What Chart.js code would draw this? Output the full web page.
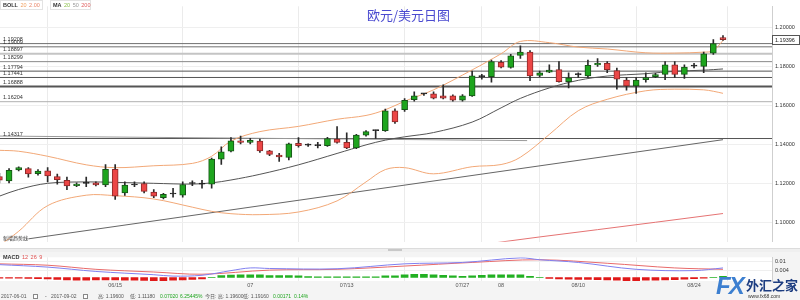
<!DOCTYPE html>
<html><head><meta charset="utf-8">
<script src="https://cdn.jsdelivr.net/npm/chart.js@4.4.1/dist/chart.umd.min.js"></script>
<style>
html,body{margin:0;padding:0;background:#fff;}
#wrap{position:relative;width:800px;height:300px;overflow:hidden;background:#f4f4f4;font-family:"Liberation Sans",Arial,sans-serif;}
canvas{position:absolute;left:0;}
#cMain{top:0;background:#fff;}
#cMacd{top:251px;}
#title{position:absolute;left:367px;top:7px;font-size:13px;line-height:16px;color:#4b4bd0;font-family:"Noto Sans CJK SC",sans-serif;white-space:nowrap;}
#strip{position:absolute;left:0;top:248px;width:800px;height:3px;background:#efefef;border-top:1px solid #dcdcdc;}
#handle{position:absolute;left:388px;top:249px;width:14px;height:2px;background:#c8c8c8;}
#wm{position:absolute;left:716px;top:274px;width:84px;height:26px;white-space:nowrap;}
</style></head>
<body>
<div id="wrap">
  <canvas id="cMain" width="800" height="248"></canvas>
  <div id="strip"></div><div id="handle"></div>
  <canvas id="cMacd" width="800" height="49"></canvas>
  <div id="title">欧元/美元日图</div>
  <div id="wm">
    <span style="font:italic bold 24px 'Liberation Sans',Arial;color:#3c7fd0;letter-spacing:-2px;position:absolute;left:0;top:-2px;">FX</span>
    <span style="font:bold 13px 'Noto Sans CJK SC';color:#1c3c80;position:absolute;left:30px;top:1px;">外汇之家</span>
    <span style="font:5px 'Liberation Sans';color:#333;position:absolute;left:32px;top:19px;">www.fx68.com</span>
  </div>
</div>
<script>
// ---------- DATA ----------
const tickIdx    = [12, 26, 36, 48, 52, 60, 72, 79];
const tickLabels = ["06/15", "07", "07/13", "07/27", "08", "08/10", "08/24", ""];
const priceTicks = [1.10, 1.12, 1.14, 1.16, 1.18, 1.20];
const macdTicks  = [0.004, 0.01];

const openP  = [1.12361,1.12132,1.12702,1.12766,1.12507,1.12653,1.12361,1.12166,1.11888,1.12010,1.12034,1.11922,1.12732,1.11512,1.11922,1.12000,1.11561,1.11278,1.11463,1.11400,1.12000,1.11971,1.11971,1.13254,1.13658,1.14195,1.14117,1.14180,1.13678,1.13463,1.13336,1.14068,1.13970,1.13951,1.13951,1.14278,1.14117,1.13824,1.14488,1.14717,1.14717,1.15741,1.15800,1.16312,1.16605,1.16605,1.16507,1.16507,1.16278,1.16507,1.17497,1.17497,1.18229,1.17970,1.18585,1.18751,1.17561,1.17727,1.17853,1.17239,1.17595,1.17531,1.18097,1.18180,1.17805,1.17317,1.17010,1.17336,1.17497,1.17610,1.18097,1.17610,1.18034,1.18019,1.18702,1.19497];
const highP  = [1.12522,1.12766,1.12863,1.12815,1.12717,1.12815,1.12488,1.12327,1.12034,1.12327,1.12083,1.12975,1.12975,1.12083,1.12083,1.12083,1.11693,1.11497,1.11756,1.12083,1.12132,1.12166,1.13302,1.13888,1.14361,1.14439,1.14327,1.14278,1.13707,1.13546,1.14083,1.14361,1.14034,1.14117,1.14376,1.14927,1.14605,1.14522,1.14717,1.14741,1.15824,1.15839,1.16370,1.16717,1.16634,1.16717,1.17073,1.16556,1.16571,1.17775,1.17610,1.18341,1.18312,1.18634,1.19073,1.18829,1.17775,1.18097,1.18263,1.17692,1.17692,1.18341,1.18424,1.18263,1.17936,1.17449,1.17449,1.17692,1.17658,1.18263,1.18263,1.18097,1.18180,1.18751,1.19400,1.19600];
const lowP   = [1.12034,1.12034,1.12644,1.12327,1.12424,1.12083,1.11971,1.11678,1.11839,1.11839,1.11873,1.11839,1.11180,1.11385,1.11839,1.11512,1.11278,1.11205,1.11302,1.11302,1.11888,1.11756,1.11756,1.12975,1.13629,1.14034,1.14034,1.13595,1.13434,1.13141,1.13219,1.13873,1.13912,1.13824,1.13912,1.14068,1.13790,1.13790,1.14439,1.14312,1.14683,1.15092,1.15700,1.16229,1.16522,1.16341,1.16341,1.16229,1.16229,1.16473,1.17365,1.17205,1.17936,1.17922,1.18424,1.17287,1.17497,1.17692,1.17205,1.16912,1.17449,1.17449,1.18019,1.17692,1.16849,1.16800,1.16634,1.17205,1.17434,1.17336,1.17449,1.17400,1.17936,1.17692,1.18634,1.19351];
const closeP = [1.12166,1.12683,1.12815,1.12488,1.12634,1.12390,1.12195,1.11873,1.11971,1.12010,1.11922,1.12732,1.11351,1.11922,1.11922,1.11595,1.11351,1.11449,1.11463,1.11951,1.12000,1.11971,1.13254,1.13629,1.14195,1.14117,1.14214,1.13678,1.13497,1.13366,1.14034,1.13951,1.13970,1.13951,1.14312,1.14117,1.13824,1.14488,1.14668,1.14717,1.15741,1.15170,1.16278,1.16507,1.16605,1.16390,1.16390,1.16278,1.16507,1.17531,1.17497,1.18263,1.17985,1.18556,1.18751,1.17531,1.17692,1.17824,1.17239,1.17434,1.17595,1.18068,1.18180,1.17853,1.17365,1.17010,1.17317,1.17449,1.17595,1.18097,1.17610,1.17985,1.18034,1.18668,1.19190,1.19396];

const bollIdx = [0,2,5,9,12,16,20,22,24,27,31,35,38,40,42,45,49,52,54,57,60,63,67,70,73,74,75];
const bollUp  = [1.13707,1.13658,1.13400,1.12961,1.12815,1.12912,1.13034,1.13400,1.14180,1.14668,1.14936,1.15302,1.15497,1.15790,1.16229,1.16814,1.17839,1.18668,1.19302,1.19239,1.19009,1.18912,1.18717,1.18702,1.18751,1.18829,1.19351];
const bollMid = [1.11351,1.11693,1.12010,1.12083,1.12059,1.12010,1.11971,1.12034,1.12180,1.12473,1.12961,1.13546,1.13985,1.14229,1.14400,1.14619,1.15156,1.15888,1.16375,1.16912,1.17302,1.17522,1.17644,1.17766,1.17824,1.17853,1.17888];
const bollLow = [1.08815,1.09546,1.10863,1.11400,1.11375,1.11205,1.10785,1.10570,1.10449,1.10400,1.10536,1.11107,1.12083,1.12717,1.12815,1.12498,1.12863,1.12975,1.13351,1.14522,1.15741,1.16327,1.16766,1.16849,1.16815,1.16741,1.16634];

const ma200Idx = [50, 56, 62, 68, 75];
const ma200Val = [1.08863, 1.09254, 1.09629, 1.10009, 1.10458];

const levelVals   = [1.19190, 1.19024, 1.18668, 1.18263, 1.17775, 1.17449, 1.16985, 1.16205, 1.14312];
const levelLabels = ["1.19208","1.19009","1.18897","1.18299","1.17794","1.17441","1.16888","1.16204","1.14317"];
const levelColor  = ["#707070","#707070","#c4c4c4","#8a8a8a","#555555","#555555","#555555","#b0b0b0","#555555"];
const levelWidth  = [1,1,2,1,1,1,2,1,1];

const trendIdx = [3, 75];
const trendVal = [1.09156, 1.14253];
const trendLabel = "新增趋势线";
const segIdx = [0, 54.7];
const segVal = [1.14439, 1.14205];

const difIdx = [0,5,10,16,18,21,24,26,28,35,42,48,54,56,60,66,72,75];
const difVal = [0.00785,0.00635,0.0037,0.0017,0.00085,0.00135,0.0042,0.00585,0.0055,0.00535,0.00835,0.0092,0.012,0.01085,0.0092,0.005,0.0042,0.00585];
const deaIdx = [0,5,10,16,21,28,35,42,49,56,63,70,75];
const deaVal = [0.00835,0.0075,0.005,0.00335,0.002,0.0045,0.005,0.007,0.0092,0.01085,0.0087,0.00585,0.005];
const histVal = [-0.00035,-0.00035,-0.00035,-0.0005,-0.00065,-0.00085,-0.00115,-0.0015,-0.00165,-0.00165,-0.0015,-0.0015,-0.0015,-0.00165,-0.00165,-0.00185,-0.002,-0.002,-0.00165,-0.0015,-0.00115,-0.00085,
 0.00015,0.00115,0.0015,0.00165,0.00165,0.00165,
 0.00115,0.00115,0.00115,0.001,0.0005,0.00035,0.00035,0.00035,0.00035,0.00035,0.00035,0.0004,
 0.001,0.001,0.00165,0.002,0.002,0.00165,0.00125,0.001,0.00065,0.001,0.00135,0.00165,0.00165,0.00165,0.00165,0.00065,
 0.00015,
 -0.0005,-0.00085,-0.001,-0.00115,-0.00115,-0.00135,-0.0015,-0.00165,-0.002,-0.002,-0.00165,-0.00165,-0.0015,-0.00135,-0.001,-0.00065,-0.00035,
 0.00015,0.00065];

// header / footer texts
const legendBoll = [["BOLL", "#333", true], ["20", "#f0a060"], ["2.00", "#e8866a"]];
const legendMA   = [["MA", "#333", true], ["20", "#8cc04a"], ["50", "#999"], ["200", "#e06060"]];
const legendMacd = [["MACD", "#333", true], ["12", "#e05050"], ["26", "#e05050"], ["9", "#e05050"]];
const infoTexts = [
  ["2017-06-01", 1, "#555"], ["-", 45, "#555"], ["2017-09-02", 51, "#555"],
  ["高: 1.19600", 98, "#555"], ["低: 1.11180", 130, "#555"],
  ["0.07020", 160, "#1fa51f"], ["6.25445%", 180, "#1fa51f"],
  ["今日: 高: 1.19600", 205, "#555"], ["低: 1.19160", 243, "#555"],
  ["0.00171", 273, "#1fa51f"], ["0.14%", 294, "#1fa51f"]
];
const infoIcons = [33, 83];

// ---------- LAYOUT CONSTANTS ----------
const X_MIN = 0.062, X_MAX = 80.08;
const Y_MAX = 1.21107, Y_MIN = 1.09010;
const M_MAX = 0.01235, M_MIN = -0.00215;
const AXIS_W = 28;

const GREEN = '#1ea51e', GREEN_B = '#175417', RED = '#ec4646', RED_B = '#8e2a2a';
const FONT = '"Liberation Sans", "Noto Sans CJK SC", Arial, sans-serif';
const CJK = '"Noto Sans CJK SC", sans-serif';

const n = closeP.length;
const idx = closeP.map((_, i) => i);
const pts = (xs, ys) => xs.map((x, k) => ({x, y: ys[k]}));

const bodyColors = idx.map(i => closeP[i] > openP[i] ? GREEN : (closeP[i] < openP[i] ? RED : '#222'));
const bodyBorders = idx.map(i => closeP[i] > openP[i] ? GREEN_B : (closeP[i] < openP[i] ? RED_B : '#222'));

const xGridCommon = {
  type: 'linear', min: X_MIN, max: X_MAX, offset: false,
  afterBuildTicks: s => { s.ticks = tickIdx.map(v => ({value: v})); },
};

function drawLegend(ctx, items, x, y, boxW) {
  ctx.save();
  ctx.fillStyle = '#fff'; ctx.strokeStyle = '#e3e3e3'; ctx.lineWidth = 1;
  ctx.fillRect(x + 0.5, y + 0.5, boxW, 9); ctx.strokeRect(x + 0.5, y + 0.5, boxW, 9);
  ctx.textBaseline = 'middle';
  let cx = x + 3;
  items.forEach(([t, c, b]) => {
    ctx.font = (b ? 'bold ' : '') + '5.5px ' + FONT;
    ctx.fillStyle = c; ctx.fillText(t, cx, y + 5.5);
    cx += ctx.measureText(t).width + 2.5;
  });
  ctx.restore();
}

const bgPlugin = {
  id: 'bg',
  beforeDraw(chart) {
    const {ctx, chartArea: a} = chart;
    ctx.save(); ctx.fillStyle = '#fff';
    ctx.fillRect(a.left, a.top, a.right - a.left, a.bottom - a.top);
    ctx.restore();
  }
};

const overlayPlugin = {
  id: 'overlay',
  afterDatasetsDraw(chart) {
    const {ctx, scales: {x, y}} = chart;
    ctx.save();
    ctx.font = '5.5px ' + FONT;
    ctx.fillStyle = '#333';
    ctx.textBaseline = 'middle';
    levelVals.forEach((v, k) => ctx.fillText(levelLabels[k], 3, y.getPixelForValue(v) - 4));
    ctx.font = '5px ' + CJK;
    ctx.fillText(trendLabel, 3, y.getPixelForValue(trendVal[0]) - 1);
    ctx.restore();
  },
  afterDraw(chart) {
    const {ctx, scales: {y}, chartArea: a} = chart;
    const last = closeP[n - 1];
    const py = Math.round(y.getPixelForValue(last));
    ctx.save();
    ctx.fillStyle = '#fff'; ctx.strokeStyle = '#555'; ctx.lineWidth = 1;
    ctx.fillRect(a.right + 0.5, py - 4.5, 27, 9);
    ctx.strokeRect(a.right + 0.5, py - 4.5, 27, 9);
    ctx.fillStyle = '#222'; ctx.font = '5.5px ' + FONT; ctx.textBaseline = 'middle';
    ctx.fillText(last.toFixed(5), a.right + 3, py);
    ctx.restore();
    drawLegend(ctx, legendBoll, 0, 0, 42);
    drawLegend(ctx, legendMA, 50, 0, 40);
  }
};

const macdOverlay = {
  id: 'macdOverlay',
  afterDraw(chart) {
    const {ctx} = chart;
    ctx.save();
    ctx.textBaseline = 'middle';
    let cx = 3;
    legendMacd.forEach(([t, c, b]) => {
      ctx.font = (b ? 'bold ' : '') + '5.5px ' + FONT;
      ctx.fillStyle = c; ctx.fillText(t, cx, 6);
      cx += ctx.measureText(t).width + 2.5;
    });
    // footer info line
    const fy = 46;
    infoTexts.forEach(([t, xx, c]) => {
      ctx.font = '5px ' + FONT;
      ctx.fillStyle = c; ctx.fillText(t, xx, fy);
    });
    ctx.strokeStyle = '#888'; ctx.fillStyle = '#fff'; ctx.lineWidth = 1;
    infoIcons.forEach(xx => { ctx.fillRect(xx + 0.5, fy - 2.5, 4, 4); ctx.strokeRect(xx + 0.5, fy - 2.5, 4, 4); });
    ctx.restore();
  }
};

const lineDs = (data, color, width, order, extra) => Object.assign({
  type: 'line', data, borderColor: color, borderWidth: width, pointRadius: 0,
  fill: false, tension: 0, order
}, extra || {});

const mainDatasets = [];
levelVals.forEach((v, k) => mainDatasets.push(lineDs([{x: X_MIN, y: v}, {x: X_MAX, y: v}], levelColor[k], levelWidth[k], 20)));
mainDatasets.push(lineDs(pts(segIdx, segVal), '#9a9a9a', 1, 19));
mainDatasets.push(lineDs(pts(trendIdx, trendVal), '#666', 1, 18));
mainDatasets.push(lineDs(pts(ma200Idx, ma200Val), '#e57373', 1, 17));
mainDatasets.push(lineDs(pts(bollIdx, bollUp), '#f2a877', 1, 16, {tension: 0.35}));
mainDatasets.push(lineDs(pts(bollIdx, bollLow), '#f2a877', 1, 16, {tension: 0.35}));
mainDatasets.push(lineDs(pts(bollIdx, bollMid), '#555', 1, 15, {tension: 0.35}));
mainDatasets.push({
  type: 'bar', data: idx.map(i => ({x: i, y: [lowP[i], highP[i]]})),
  backgroundColor: '#2a2a2a', barThickness: 1, grouped: false, order: 2, borderWidth: 0
});
mainDatasets.push({
  type: 'bar', data: idx.map(i => ({x: i, y: [openP[i], closeP[i]]})),
  backgroundColor: bodyColors, borderColor: bodyBorders, borderWidth: 1, borderSkipped: false,
  barThickness: 6, grouped: false, minBarLength: 1, order: 1
});

new Chart(document.getElementById('cMain'), {
  type: 'bar',
  data: {datasets: mainDatasets},
  options: {
    responsive: false, animation: false, devicePixelRatio: 1,
    layout: {padding: 0},
    plugins: {legend: {display: false}, tooltip: {enabled: false}},
    scales: {
      x: Object.assign({}, xGridCommon, {
        grid: {color: '#ebebeb', drawTicks: false}, border: {display: false},
        ticks: {display: false}, afterFit: s => { s.height = 0; }
      }),
      y: {
        type: 'linear', position: 'right', min: Y_MIN, max: Y_MAX,
        afterBuildTicks: s => { s.ticks = priceTicks.map(v => ({value: v})); },
        grid: {color: '#efefef', drawTicks: false},
        border: {display: true, color: '#cfcfcf'},
        ticks: {callback: v => v.toFixed(5), font: {size: 5.5, family: FONT}, color: '#333', padding: 3},
        afterFit: s => { s.width = AXIS_W; }
      }
    }
  },
  plugins: [bgPlugin, overlayPlugin]
});

new Chart(document.getElementById('cMacd'), {
  type: 'bar',
  data: {datasets: [
    lineDs(pts(deaIdx, deaVal), '#e86a6a', 1, 2, {tension: 0.35}),
    lineDs(pts(difIdx, difVal), '#8080f0', 1, 1, {tension: 0.35}),
    {type: 'bar', data: idx.map(i => ({x: i, y: histVal[i]})),
     backgroundColor: histVal.map(v => v >= 0 ? '#22b022' : '#e01818'),
     barThickness: 7, grouped: false, order: 3, borderWidth: 0}
  ]},
  options: {
    responsive: false, animation: false, devicePixelRatio: 1,
    layout: {padding: {top: 1, bottom: 8}},
    plugins: {legend: {display: false}, tooltip: {enabled: false}},
    scales: {
      x: Object.assign({}, xGridCommon, {
        grid: {color: '#ebebeb', drawTicks: false}, border: {display: false},
        ticks: {autoSkip: false, maxRotation: 0, font: {size: 5.5, family: FONT}, color: '#555', padding: 1,
                callback: (v) => { const k = tickIdx.indexOf(v); return k >= 0 ? tickLabels[k] : ''; }},
        afterFit: s => { s.height = 11; }
      }),
      y: {
        type: 'linear', position: 'right', min: M_MIN, max: M_MAX,
        afterBuildTicks: s => { s.ticks = macdTicks.map(v => ({value: v})); },
        grid: {color: '#efefef', drawTicks: false},
        border: {display: true, color: '#cfcfcf'},
        ticks: {callback: v => String(v), font: {size: 5.5, family: FONT}, color: '#333', padding: 3},
        afterFit: s => { s.width = AXIS_W; }
      }
    }
  },
  plugins: [bgPlugin, macdOverlay]
});
</script>
</body></html>
